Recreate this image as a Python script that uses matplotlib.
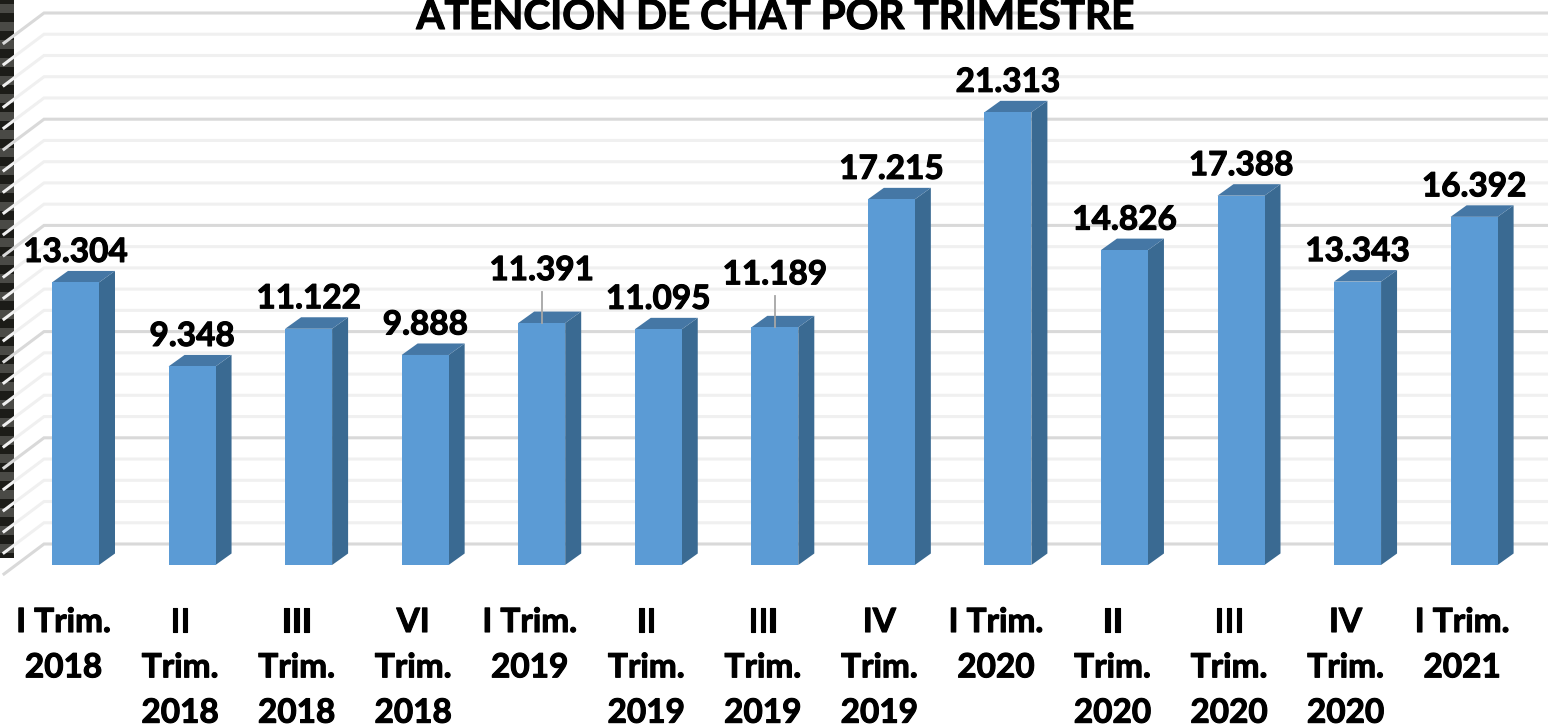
import matplotlib
matplotlib.use("Agg")
import matplotlib.pyplot as plt
import matplotlib.patheffects as pe
from matplotlib.patches import Polygon, Rectangle

categories = ["I Trim.\n2018", "II\nTrim.\n2018", "III\nTrim.\n2018", "VI\nTrim.\n2018",
              "I Trim.\n2019", "II\nTrim.\n2019", "III\nTrim.\n2019", "IV\nTrim.\n2019",
              "I Trim.\n2020", "II\nTrim.\n2020", "III\nTrim.\n2020", "IV\nTrim.\n2020",
              "I Trim.\n2021"]
values = [13304, 9348, 11122, 9888, 11391, 11095, 11189, 17215, 21313, 14826, 17388, 13343, 16392]
labels = ["13.304", "9.348", "11.122", "9.888", "11.391", "11.095", "11.189",
          "17.215", "21.313", "14.826", "17.388", "13.343", "16.392"]
title = "ATENCIÓN DE CHAT POR TRIMESTRE"
grid_values = list(range(0, 26000, 1000))

W, H = 1548, 727
PX_X = 116.55          # pixels per category
PX_Y = 531 / 25000     # pixels per unit
X0, Y0 = 75.5, 565     # pixel position of category 0, value 0
fig = plt.figure(figsize=(W / 100, H / 100), dpi=100)
ax = fig.add_axes([0, 0, 1, 1])
ax.set_xlim(-X0 / PX_X, (W - X0) / PX_X)
ax.set_ylim((Y0 - H) / PX_Y, Y0 / PX_Y)
ax.axis("off")
plt.rcParams["font.family"] = "Lato"
heavy = [pe.withStroke(linewidth=0.8, foreground="black")]

def dx(p): return p / PX_X
def dy(p): return p / PX_Y

# left-hand dark strip
n = 0
for top in range(-5, 558, 9):
    bottom = min(top + 9, 558)
    ax.add_patch(Rectangle((-X0 / PX_X, (Y0 - bottom) / PX_Y), dx(14), dy(bottom - top),
                           fc="#4a4a46" if n % 2 else "#1c1c18", ec="none", zorder=1))
    n += 1

# gridlines: back wall plus the floor/side slant
x_left, x_wall = dx(4 - X0), dx(44 - X0)
x_right = (W - X0) / PX_X
for g in grid_values:
    major = g % 5000 == 0
    col = "#d9d9d9" if major else "#f0f0f0"
    ax.plot([x_left, x_wall, x_right], [g + dy(-9), g + dy(21), g + dy(21)],
            color=col, lw=2.2, zorder=2, solid_joinstyle="miter")

# bars
BW = 47 / PX_X
DX, DY = dx(16), dy(11.5)
ax.bar(range(len(values)), values, width=BW, color="#5b9bd5", zorder=4)
for i, v in enumerate(values):
    l, r = i - BW / 2, i + BW / 2
    ax.add_patch(Polygon([(r, 0), (r + DX, DY), (r + DX, v + DY), (r, v)],
                         fc="#3a6a92", ec="none", zorder=3))
    ax.add_patch(Polygon([(l, v), (l + DX, v + DY), (r + DX, v + DY), (r, v)],
                         fc="#4577a5", ec="none", zorder=3))

# value labels
for i, (v, s) in enumerate(zip(values, labels)):
    extra = 38 if i in (4, 6) else 15.5
    ax.text(i, v + dy(extra), s, ha="center", va="bottom", fontsize=24,
            fontweight="bold", color="black", zorder=6, path_effects=heavy)
for i in (4, 6):
    ax.plot([i, i], [values[i], values[i] + dy(31)], color="#a6a6a6", lw=1.3, zorder=5)

# category labels
for i, c in enumerate(categories):
    ax.text(i - dx(12), dy(Y0 - 608), c, ha="center", va="top", fontsize=24, fontweight="bold",
            linespacing=1.68, color="black", zorder=6, path_effects=heavy)

ax.text(dx(775 - X0), dy(Y0 - 29), title, ha="center", va="baseline", fontsize=29.2,
        fontweight="bold", color="black", zorder=6, path_effects=heavy)

fig.savefig("out.png", dpi=100)
